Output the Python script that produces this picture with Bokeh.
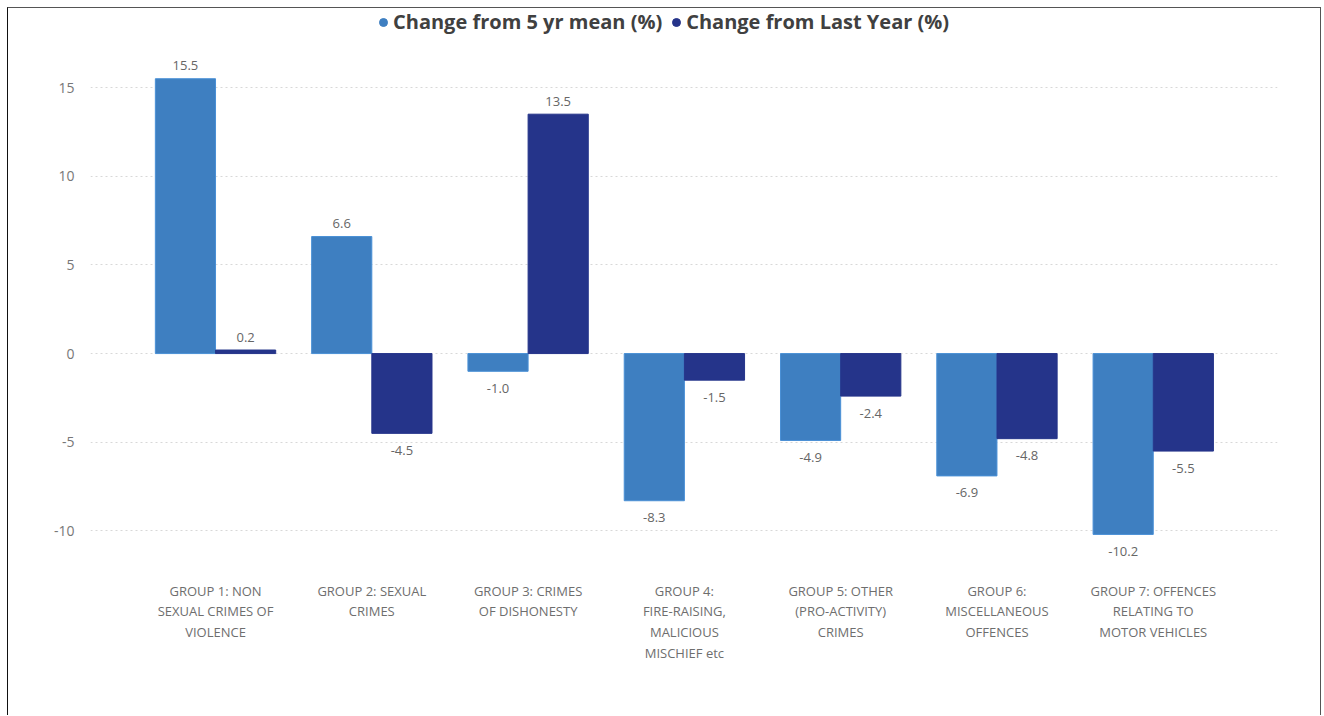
from bokeh.plotting import figure
from bokeh.models import ColumnDataSource, Range1d, FixedTicker, Legend, LegendItem
from bokeh.transform import dodge
from bokeh.core.properties import value
from bokeh.embed import file_html
from bokeh.resources import INLINE

# ---- data ----
categories = [
    "GROUP 1: NON\nSEXUAL CRIMES OF\nVIOLENCE",
    "GROUP 2: SEXUAL\nCRIMES",
    "GROUP 3: CRIMES\nOF DISHONESTY",
    "GROUP 4:\nFIRE-RAISING,\nMALICIOUS\nMISCHIEF etc",
    "GROUP 5: OTHER\n(PRO-ACTIVITY)\nCRIMES",
    "GROUP 6:\nMISCELLANEOUS\nOFFENCES",
    "GROUP 7: OFFENCES\nRELATING TO\nMOTOR VEHICLES",
]
change_5yr_mean = [15.5, 6.6, -1.0, -8.3, -4.9, -6.9, -10.2]
change_last_year = [0.2, -4.5, 13.5, -1.5, -2.4, -4.8, -5.5]
series_names = ["Change from 5 yr mean (%)", "Change from Last Year (%)"]
y_ticks = [-10, -5, 0, 5, 10, 15]
y_tick_labels = ["-10", "-5", "0", "5", "10", "15"]

LIGHT = "#3E7FC1"
DARK = "#25348A"
FONT = "Open Sans"

idx = list(range(len(categories)))

def label_offsets(vals):
    return [-13 if v >= 0 else 17 for v in vals]

src = ColumnDataSource(dict(
    x=idx,
    a=change_5yr_mean,
    b=change_last_year,
    a_txt=[f"{v:.1f}" for v in change_5yr_mean],
    b_txt=[f"{v:.1f}" for v in change_last_year],
    a_off=label_offsets(change_5yr_mean),
    b_off=label_offsets(change_last_year),
))

p = figure(width=1314, height=708, output_backend="svg", toolbar_location=None,
           x_range=Range1d(-0.8, 6.795), y_range=Range1d(-11.67, 19.46),
           min_border_left=82, min_border_right=45, min_border_top=0, min_border_bottom=156)
p.styles = {"margin-left": "7px", "margin-top": "7px",
            "border-top": "1px solid #555", "border-left": "1px solid #111",
            "border-right": "1px solid #555"}
p.outline_line_color = None
p.background_fill_color = "white"

bw = 0.385
p.vbar(x=dodge("x", -0.1925, range=p.x_range), top="a", bottom=0, width=bw, source=src,
       fill_color=LIGHT, line_color="#4a90d6", line_width=1)
p.vbar(x=dodge("x", 0.1925, range=p.x_range), top="b", bottom=0, width=bw, source=src,
       fill_color=DARK, line_color=DARK, line_width=1)

p.text(x=dodge("x", -0.1925, range=p.x_range), y="a", text="a_txt", y_offset="a_off", source=src,
       text_align="center", text_baseline="middle", text_font=value(FONT),
       text_font_size="13px", text_color="#666666")
p.text(x=dodge("x", 0.1925, range=p.x_range), y="b", text="b_txt", y_offset="b_off", source=src,
       text_align="center", text_baseline="middle", text_font=value(FONT),
       text_font_size="13px", text_color="#666666")

# legend with circle markers
r1 = p.scatter(x=[float("nan")], y=[float("nan")], marker="circle", color=LIGHT)
r2 = p.scatter(x=[float("nan")], y=[float("nan")], marker="circle", color=DARK)
legend = Legend(items=[LegendItem(label=series_names[0], renderers=[r1]),
                       LegendItem(label=series_names[1], renderers=[r2])],
                orientation="horizontal", location=(283, 525),
                label_text_font=FONT, label_text_font_size="20px", label_text_font_style="bold",
                label_text_color="#404040", glyph_width=20, glyph_height=20,
                label_standoff=0, spacing=4, padding=0, margin=0,
                border_line_color=None, background_fill_alpha=0)
p.add_layout(legend, "center")

# axes
p.xaxis.ticker = FixedTicker(ticks=idx)
p.xaxis.major_label_overrides = {i: c for i, c in zip(idx, categories)}
p.xaxis.axis_line_color = None
p.xaxis.major_tick_line_color = None
p.xaxis.minor_tick_line_color = None
p.xaxis.major_label_standoff = 15
p.xaxis.major_label_text_font = FONT
p.xaxis.major_label_text_font_size = "13px"
p.xaxis.major_label_text_color = "#6e6e6e"
p.xaxis.major_label_text_line_height = 1.15

p.yaxis.ticker = FixedTicker(ticks=y_ticks)
p.yaxis.major_label_overrides = {t: s for t, s in zip(y_ticks, y_tick_labels)}
p.yaxis.axis_line_color = None
p.yaxis.major_tick_line_color = None
p.yaxis.minor_tick_line_color = None
p.yaxis.major_label_standoff = 10
p.yaxis.major_label_text_font = FONT
p.yaxis.major_label_text_font_size = "14px"
p.yaxis.major_label_text_color = "#777777"

p.xgrid.grid_line_color = None
p.ygrid.grid_line_color = "#d8d8d8"
p.ygrid.grid_line_dash = "2 3"
p.ygrid.grid_line_width = 1

open("out.html", "w").write(file_html(p, INLINE))
